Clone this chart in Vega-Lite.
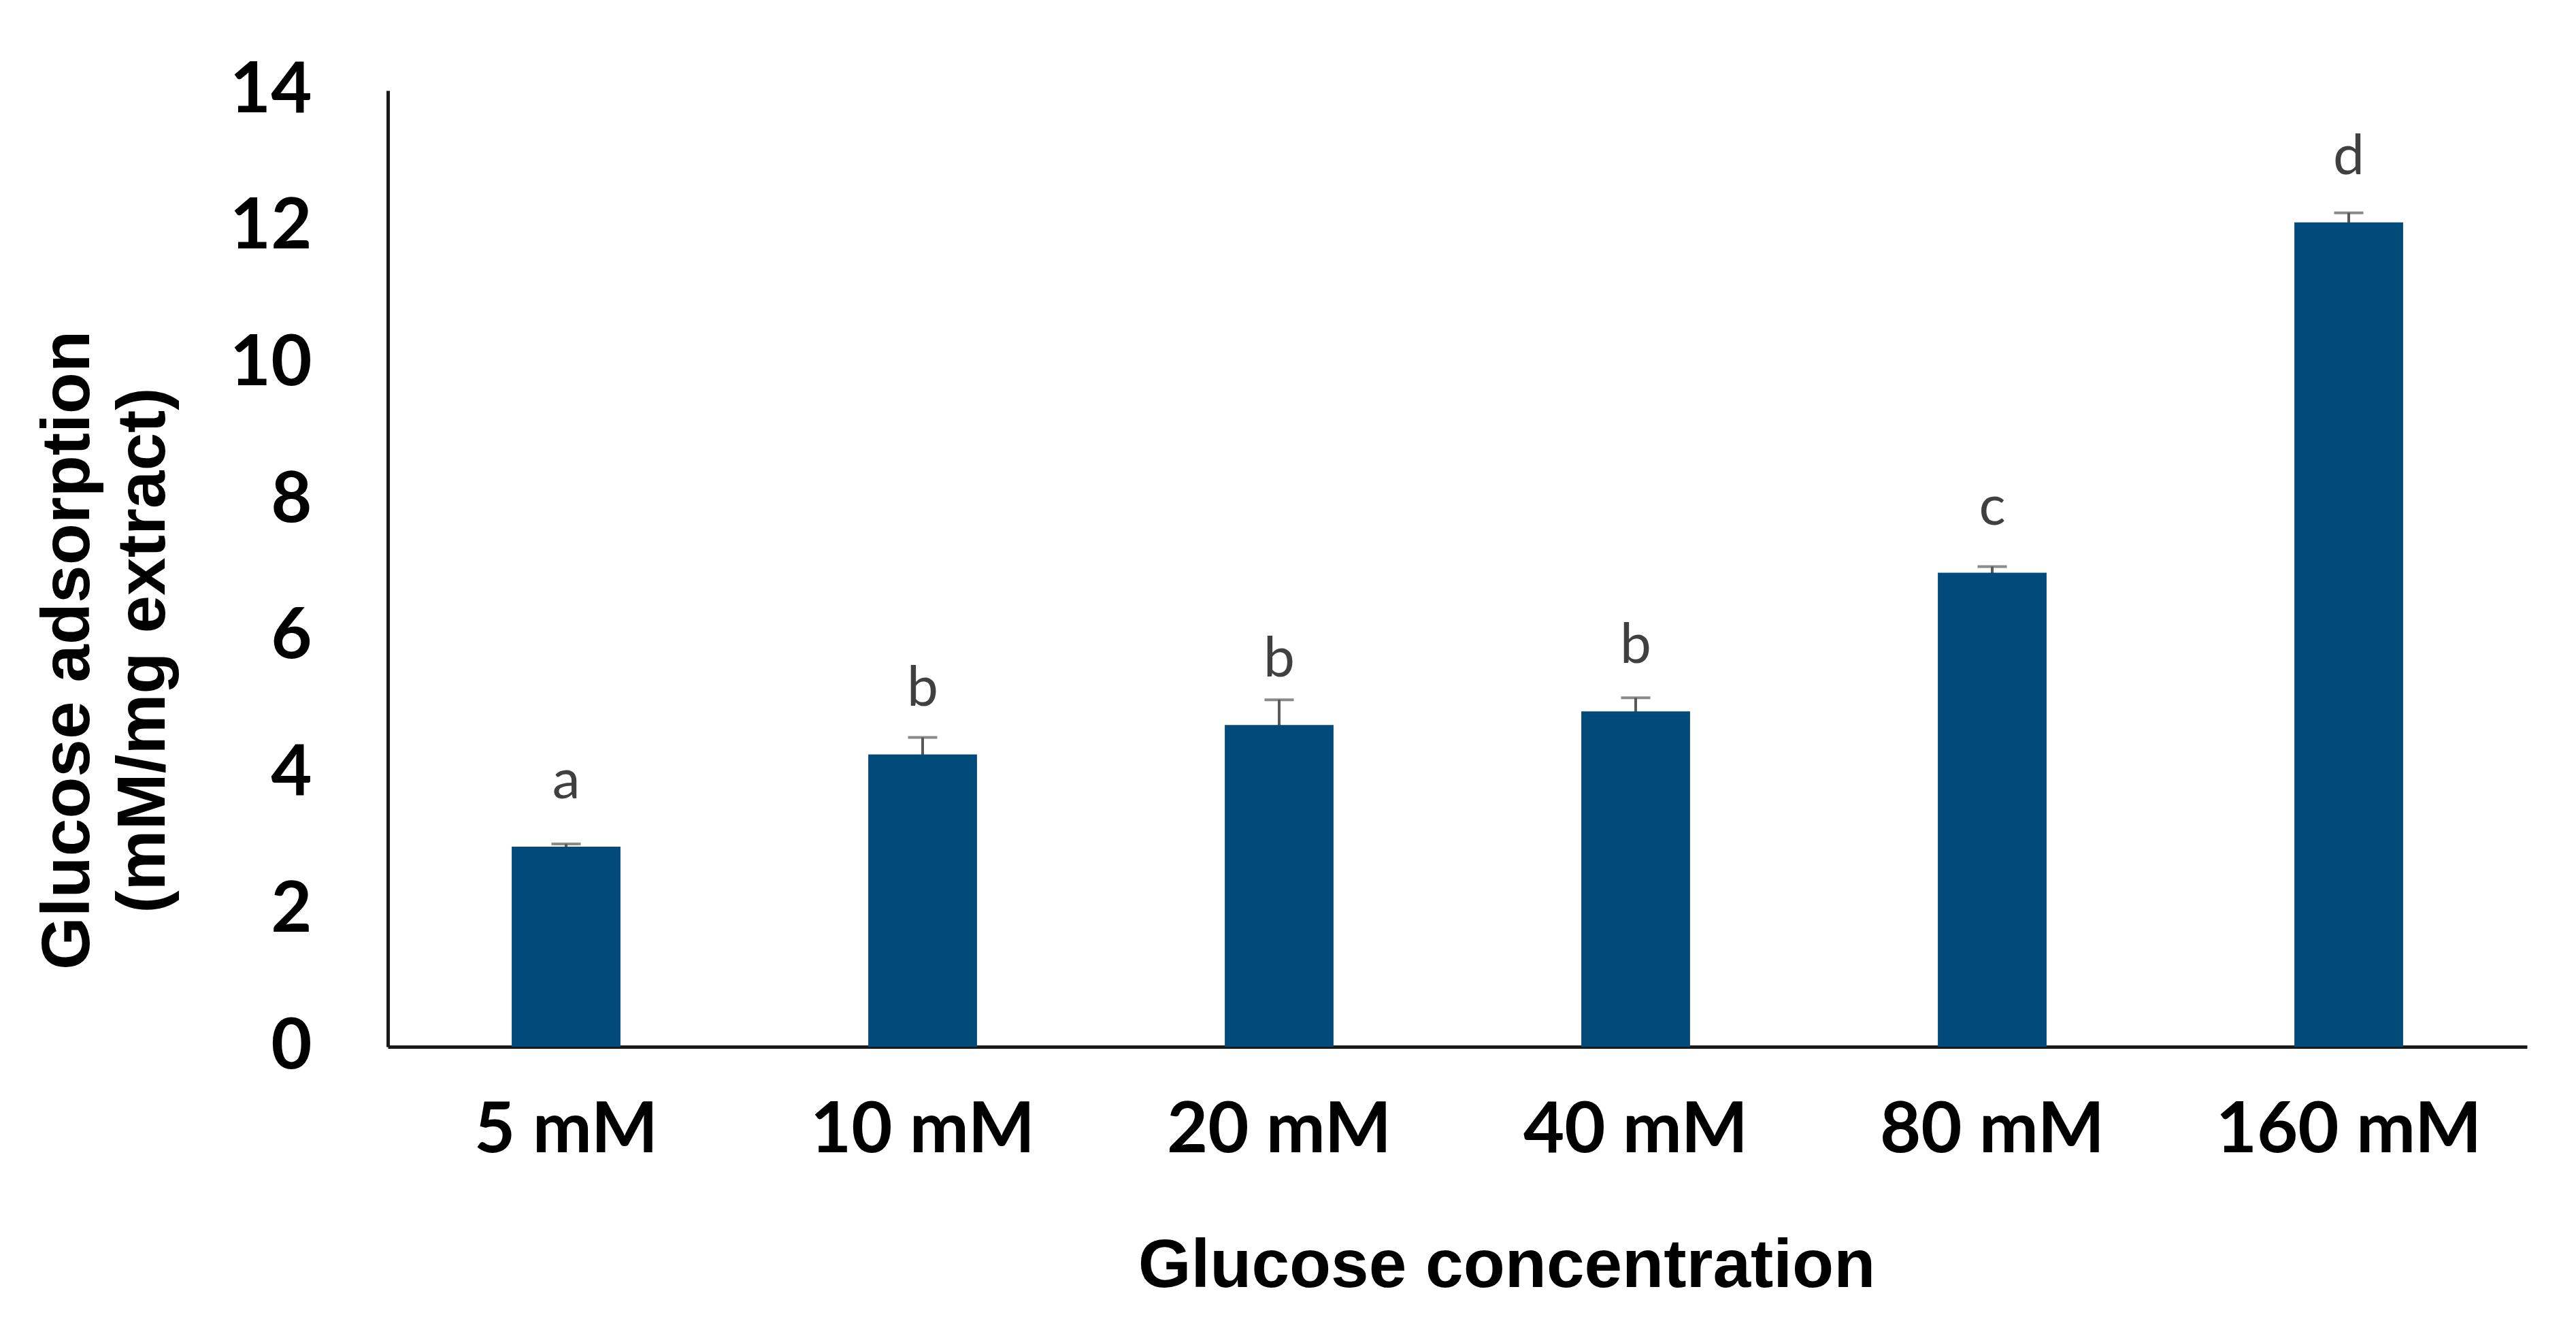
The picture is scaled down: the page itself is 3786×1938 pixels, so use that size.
{
  "$schema": "https://vega.github.io/schema/vega-lite/v6.json",
  "width": 3144,
  "height": 1405,
  "autosize": {"type": "none"},
  "padding": {"left": 570, "top": 133, "right": 72, "bottom": 400},
  "background": "white",
  "config": {"view": {"stroke": null}},
  "data": {
    "values": [
      {"conc": "5 mM", "value": 2.93, "err": 0.04, "letter": "a"},
      {"conc": "10 mM", "value": 4.28, "err": 0.25, "letter": "b"},
      {"conc": "20 mM", "value": 4.71, "err": 0.37, "letter": "b"},
      {"conc": "40 mM", "value": 4.91, "err": 0.2, "letter": "b"},
      {"conc": "80 mM", "value": 6.94, "err": 0.09, "letter": "c"},
      {"conc": "160 mM", "value": 12.07, "err": 0.14, "letter": "d"}
    ]
  },
  "encoding": {
    "x": {
      "field": "conc",
      "type": "nominal",
      "sort": null,
      "scale": {"paddingInner": 0.695, "paddingOuter": 0.3475},
      "axis": {
        "title": "Glucose concentration",
        "labelAngle": 0,
        "labelLimit": 0,
        "ticks": false,
        "tickSize": 0,
        "domain": true,
        "domainColor": "#1a1a1a",
        "domainWidth": 5,
        "labelFont": "Lato",
        "labelFontWeight": "bold",
        "labelFontSize": 104,
        "labelColor": "#000000",
        "labelPadding": 72,
        "titleFont": "Liberation Sans",
        "titleFontWeight": "bold",
        "titleFontSize": 100,
        "titleColor": "#000000",
        "titleX": 1644,
        "titleY": 352,
        "titleBaseline": "alphabetic",
        "titleAlign": "center"
      }
    },
    "y": {
      "field": "value",
      "type": "quantitative",
      "scale": {"domain": [0, 14], "nice": false},
      "axis": {
        "title": ["Glucose adsorption", "(mM/mg extract)"],
        "values": [0, 2, 4, 6, 8, 10, 12, 14],
        "grid": false,
        "ticks": false,
        "tickSize": 0,
        "domain": true,
        "domainColor": "#1a1a1a",
        "domainWidth": 5,
        "labelFont": "Lato",
        "labelFontWeight": "bold",
        "labelFontSize": 104,
        "labelColor": "#000000",
        "labelPadding": 112,
        "labelFlush": false,
        "labelOverlap": false,
        "titleFont": "Liberation Sans",
        "titleFontWeight": "bold",
        "titleFontSize": 100,
        "titleColor": "#000000",
        "titleAngle": -90,
        "titleAlign": "center",
        "titleBaseline": "middle",
        "titleLineHeight": 111,
        "titleX": -470,
        "titleY": 822
      }
    }
  },
  "layer": [
    {
      "mark": {
        "type": "errorbar",
        "ticks": {"size": 43, "thickness": 4, "color": "#595959"},
        "rule": {"strokeWidth": 4, "color": "#595959"}
      },
      "encoding": {
        "yError": {"field": "err"}
      }
    },
    {
      "mark": {"type": "bar", "color": "#004B7A"}
    },
    {
      "mark": {
        "type": "text",
        "font": "Lato",
        "fontSize": 82,
        "color": "#404040",
        "baseline": "middle",
        "align": "center",
        "dy": -96
      },
      "encoding": {
        "text": {"field": "letter"}
      }
    }
  ]
}
